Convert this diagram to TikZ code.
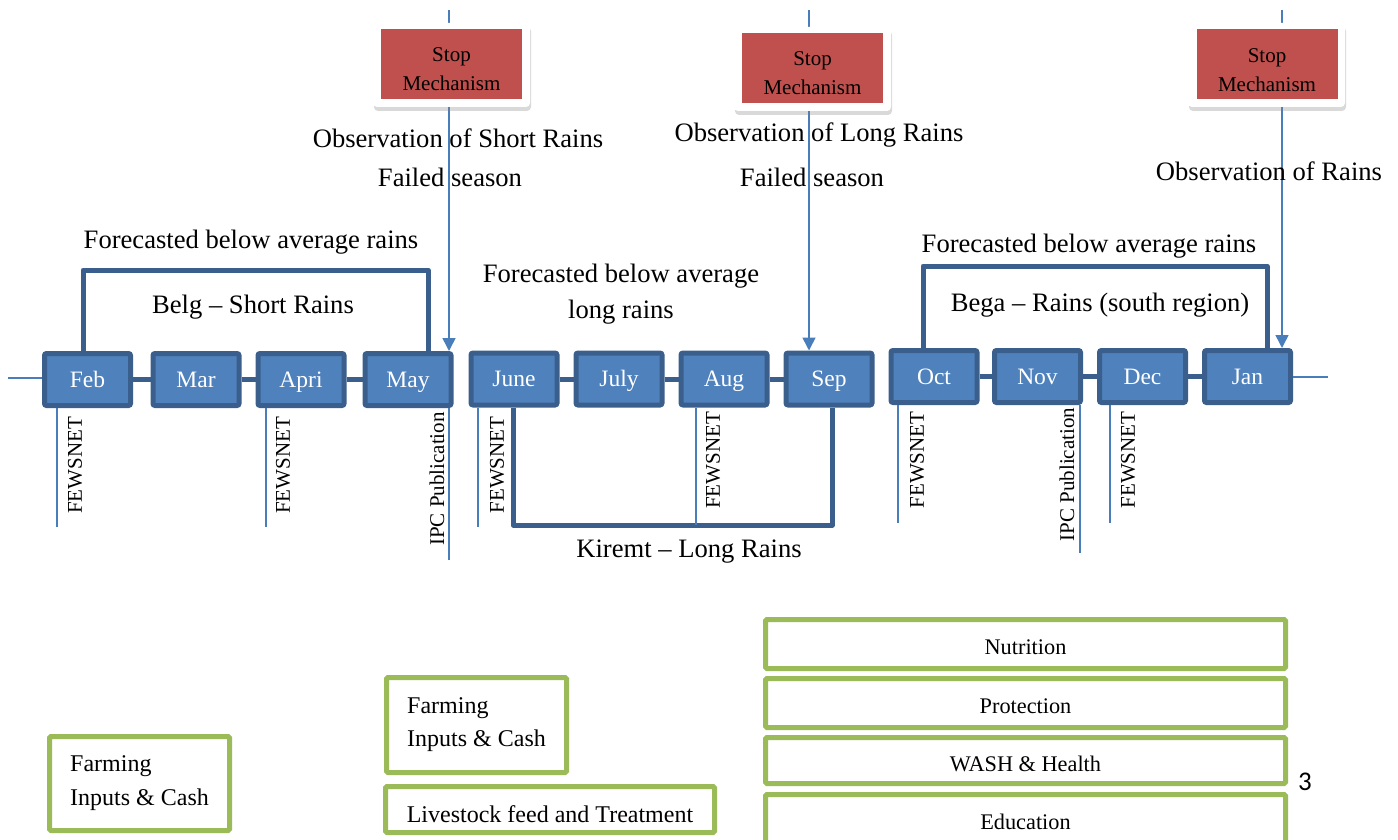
\documentclass[tikz,border=0pt]{standalone}
\usepackage{fontspec}
\setmainfont{Liberation Serif}
\newfontfamily\pagenumfont{Carlito}
\usetikzlibrary{arrows.meta,shadows}

\definecolor{monthfill}{HTML}{4F81BD}
\definecolor{monthedge}{HTML}{3A5F8C}
\definecolor{thinblue}{HTML}{4A7EBB}
\definecolor{stopred}{HTML}{C0504D}
\definecolor{boxgreen}{HTML}{9BBB59}

\tikzset{
  month/.style={draw=monthedge, fill=monthfill, line width=5pt, rounded corners=2pt,
    minimum width=86pt, minimum height=52pt, inner sep=0pt, text=white,
    text height=20pt, text depth=5pt,
    font=\fontsize{23.5}{28}\selectfont},
  monthlink/.style={draw=monthedge, line width=5pt},
  bracket/.style={draw=monthedge, line width=5pt, line join=round},
  thinline/.style={draw=thinblue, line width=1.6pt},
  droparrow/.style={thinline, -{Triangle[width=13pt,length=13pt]}},
  lbl/.style={font=\fontsize{26.6}{36}\selectfont, align=center, inner sep=0pt},
  lblbase/.style={lbl, anchor=base},
  vlabel/.style={rotate=90, font=\fontsize{21}{25}\selectfont, inner sep=0pt},
  stopouter/.style={draw=none, fill=white, rounded corners=4pt,
    minimum width=157pt, minimum height=84pt,
    drop shadow={opacity=0.3, shadow xshift=1pt, shadow yshift=-4pt}},
  stopinner/.style={fill=stopred, minimum width=141pt, minimum height=70pt, inner sep=0pt},
  stoptext/.style={inner sep=0pt, align=center, font=\fontsize{21}{29}\selectfont},
  greenbox/.style={draw=boxgreen, line width=5pt, rounded corners=1.5pt,
    inner sep=0pt, align=left},
  sector/.style={greenbox, minimum width=520pt, align=center,
    text height=21pt, text depth=0pt, font=\fontsize{22.3}{26}\selectfont},
}

\begin{document}
\begin{tikzpicture}[x=1pt, y=-1pt]
\useasboundingbox (0,0) rectangle (1398,840);

% ---- months ----
\node[month] (Feb)  at (87.5,379.5) {Feb};
\node[month] (Mar)  at (196,379.5)  {Mar};
\node[month] (Apri) at (301,379.5)  {Apri};
\node[month] (May)  at (408,379.5)  {May};
\node[month] (June) at (514,379)    {June};
\node[month] (July) at (619,379)    {July};
\node[month] (Aug)  at (724,379)    {Aug};
\node[month] (Sep)  at (829,379)    {Sep};
\node[month] (Oct)  at (934,376.5)  {Oct};
\node[month] (Nov)  at (1037.5,376.5) {Nov};
\node[month] (Dec)  at (1142.5,376.5) {Dec};
\node[month] (Jan)  at (1247.5,376.5) {Jan};

\draw[monthlink] (Feb) -- (Mar);
\draw[monthlink] (Mar) -- (Apri);
\draw[monthlink] (Apri) -- (May);
\draw[monthlink] (June) -- (July);
\draw[monthlink] (July) -- (Aug);
\draw[monthlink] (Aug) -- (Sep);
\draw[monthlink] (Oct) -- (Nov);
\draw[monthlink] (Nov) -- (Dec);
\draw[monthlink] (Dec) -- (Jan);

% timeline ends
\coordinate (tlL) at (8,378);
\coordinate (tlR) at (1328,377);
\draw[thinline] (tlL) -- (tlL -| Feb.west);
\draw[thinline] (Jan.east |- tlR) -- (tlR);

% ---- season brackets ----
\coordinate (belgL) at (83,270);
\coordinate (belgR) at (428,270);
\draw[bracket] (belgL |- Feb.north) -- (belgL) -- (belgR) -- (belgR |- May.north);

\coordinate (begaL) at (923,266);
\coordinate (begaR) at (1267,266);
\draw[bracket] (begaL |- Oct.north) -- (begaL) -- (begaR) -- (begaR |- Jan.north);

\coordinate (kirL) at (513,525);
\coordinate (kirR) at (832,525);
\draw[bracket] (kirL |- June.south) -- (kirL) -- (kirR) -- (kirR |- Sep.south);

% ---- observation lines with stop mechanisms ----
\coordinate (obs1) at (449,10);
\coordinate (obs2) at (809,10);
\coordinate (obs3) at (1282,10);
\draw[droparrow] (obs1) -- (obs1 |- May.north);
\draw[droparrow] (obs2) -- (obs2 |- Sep.north);
\draw[droparrow] (obs3) -- (obs3 |- Jan.north);

\node[stopouter] (stop1) at (451.5,65) {};
\node[stopinner] (stop1in) at (451.5,64) {};
\node[stoptext] (stop1txt) at (451.5,69.3) {Stop\\Mechanism};
\node[stopouter] (stop2) at (812.5,69) {};
\node[stopinner] (stop2in) at (812.5,68.5) {};
\node[stoptext] (stop2txt) at (812.5,73.5) {Stop\\Mechanism};
\node[stopouter] (stop3) at (1266.5,65) {};
\node[stopinner] (stop3in) at (1267,64) {};
\node[stoptext] (stop3txt) at (1267,69.8) {Stop\\Mechanism};

% ---- labels ----
\node[lblbase] (obsShort) at (458,148) {Observation of Short Rains};
\node[lblbase] (fail1)    at (450,186) {Failed season};
\node[lblbase] (obsLong)  at (819,142) {Observation of Long Rains};
\node[lblbase] (fail2)    at (812,186) {Failed season};
\node[lblbase] (obsRains) at (1269,181) {Observation of Rains};

\node[lblbase] (fc1)    at (251,248) {Forecasted below average rains};
\node[lblbase] (belg)   at (253,313) {Belg -- Short Rains};
\node[lbl]     (fc2)    at (621,293.8) {Forecasted below average\\long rains};
\node[lblbase] (kiremt) at (689,557) {Kiremt -- Long Rains};
\node[lblbase] (fc3)    at (1089,252) {Forecasted below average rains};
\node[lblbase] (bega)   at (1100,311) {Bega -- Rains (south region)};

% ---- monitoring ticks ----
\coordinate (tFeb)  at (57,527);
\coordinate (tApri) at (266,527);
\coordinate (tMay)  at (449,560);
\coordinate (tJune) at (478,527);
\coordinate (tAug)  at (696,525);
\coordinate (tOct)  at (898,523);
\coordinate (tNov)  at (1080,553);
\coordinate (tDec)  at (1110,523);
\draw[thinline] (tFeb  |- Feb.south)  -- (tFeb);
\draw[thinline] (tApri |- Apri.south) -- (tApri);
\draw[thinline] (tMay  |- May.south)  -- (tMay);
\draw[thinline] (tJune |- June.south) -- (tJune);
\draw[thinline] (tAug  |- Aug.south)  -- (tAug);
\draw[thinline] (tOct  |- Oct.south)  -- (tOct);
\draw[thinline] (tNov  |- Nov.south)  -- (tNov);
\draw[thinline] (tDec  |- Dec.south)  -- (tDec);

\node[vlabel] (fwFeb)  at (75,465.5)  {FEWSNET};
\node[vlabel] (fwApri) at (283,465.5) {FEWSNET};
\node[vlabel] (ipcMay) at (437,479)   {IPC Publication};
\node[vlabel] (fwJune) at (497,465)   {FEWSNET};
\node[vlabel] (fwAug)  at (713,460.5) {FEWSNET};
\node[vlabel] (fwOct)  at (917,460)   {FEWSNET};
\node[vlabel] (ipcNov) at (1067,474.5) {IPC Publication};
\node[vlabel] (fwDec)  at (1128,460)  {FEWSNET};

% ---- response sectors ----
\node[greenbox, minimum width=180pt, minimum height=94pt,
  font=\fontsize{24}{34}\selectfont] (farm1) at (139.5,783.5) {Farming\\Inputs \& Cash};
\node[greenbox, minimum width=180pt, minimum height=95pt,
  font=\fontsize{24}{33}\selectfont] (farm2) at (476.5,725) {Farming\\Inputs \& Cash};
\node[greenbox, minimum width=329pt, minimum height=46pt, text height=25pt, text depth=0pt,
  font=\fontsize{24}{28}\selectfont] (livestock) at (550,809.5) {Livestock feed and Treatment};

\node[sector, minimum height=49pt] (nutrition)  at (1025.5,644)   {Nutrition};
\node[sector, minimum height=49pt] (protection) at (1025.5,703)   {Protection};
\node[sector, minimum height=46pt] (wash)       at (1025.5,760.5) {WASH \& Health};
\node[sector, minimum height=49pt] (education)  at (1025.5,819)   {Education};

\node[font=\pagenumfont\fontsize{27}{30}\selectfont, inner sep=0pt] (pagenum) at (1305,782) {3};
\end{tikzpicture}
\end{document}
